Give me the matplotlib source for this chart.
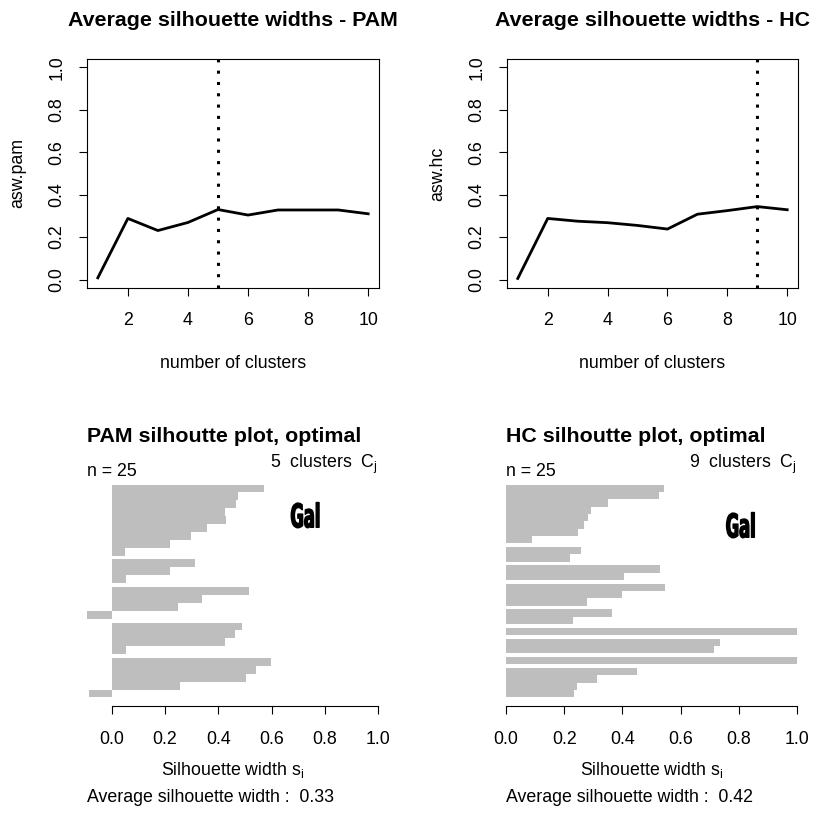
import numpy as np
import matplotlib
matplotlib.use("Agg")
import matplotlib.pyplot as plt
from matplotlib import patheffects
from matplotlib.path import Path
from matplotlib.transforms import Affine2D

# average silhouette width for k = 1..10 clusters
n_clusters = [1, 2, 3, 4, 5, 6, 7, 8, 9, 10]
asw_pam = [0.008, 0.288, 0.231, 0.269, 0.330, 0.304, 0.328, 0.328, 0.328, 0.310]
asw_hc = [0.005, 0.288, 0.275, 0.268, 0.255, 0.238, 0.308, 0.325, 0.344, 0.329]

# silhouette widths s_i of the 25 observations, grouped by cluster (sorted within cluster)
sil_pam = [
    [0.571, 0.473, 0.467, 0.426, 0.430, 0.359, 0.296, 0.218, 0.048],
    [0.314, 0.218, 0.053],
    [0.515, 0.339, 0.250, -0.093],
    [0.488, 0.463, 0.427, 0.053],
    [0.598, 0.542, 0.505, 0.255, -0.084],
]
sil_hc = [
    [0.543, 0.525, 0.349, 0.292, 0.283, 0.269, 0.249, 0.088],
    [0.257, 0.220],
    [0.529, 0.405],
    [0.548, 0.397, 0.279],
    [0.364, 0.231],
    [1.000],
    [0.735, 0.715],
    [1.000],
    [0.449, 0.311, 0.245, 0.235],
]

plt.rcParams['font.family'] = ['Liberation Sans', 'DejaVu Sans']
plt.rcParams['mathtext.fontset'] = 'custom'
plt.rcParams['mathtext.rm'] = 'Liberation Sans'
plt.rcParams['mathtext.it'] = 'Liberation Sans:italic'
plt.rcParams['mathtext.bf'] = 'Liberation Sans:bold'

W, H = 814, 813
FS = 12.8
TICK = 5.8
GRAY = '#BEBEBE'

fig = plt.figure(figsize=(W / 100, H / 100), dpi=100)


def rect(x0, y0, x1, y1):
    # pixel box -> figure fraction
    return [x0 / W, 1 - y1 / H, (x1 - x0) / W, (y1 - y0) / H]


class Squeeze(patheffects.AbstractPathEffect):
    """Narrow a text path horizontally about its centre and thicken the strokes."""

    def __init__(self, sx, stroke):
        super().__init__()
        self.sx = sx
        self.stroke = stroke

    def draw_path(self, renderer, gc, tpath, affine, rgbFace=None):
        verts = tpath.vertices
        if tpath.codes is not None:
            verts = verts[tpath.codes != Path.CLOSEPOLY]
        xs = affine.transform(verts)[:, 0]
        cx = 0.5 * (xs.min() + xs.max())
        squeeze = Affine2D().translate(-cx, 0).scale(self.sx, 1).translate(cx, 0)
        gc0 = renderer.new_gc()
        gc0.copy_properties(gc)
        gc0.set_linewidth(self.stroke)
        gc0.set_foreground(rgbFace)
        renderer.draw_path(gc0, tpath, affine + squeeze, rgbFace)
        gc0.restore()


def asw_panel(pos, asw, title, ylab):
    ax = fig.add_axes(pos)
    k_best = n_clusters[int(np.argmax(asw))]
    ax.plot(n_clusters, asw, color='black', lw=2.0)
    ax.axvline(k_best, color='black', lw=2.2, linestyle=(0, (1, 2.7)))
    ax.set_xlim(0.64, 10.36)
    ax.set_ylim(-0.04, 1.04)
    ax.set_xticks([2, 4, 6, 8, 10])
    yt = np.arange(0, 1.01, 0.2)
    ax.set_yticks(yt)
    ax.set_yticklabels([f'{v:.1f}' for v in yt])
    plt.setp(ax.get_yticklabels(), rotation=90, ha='center', va='center')
    ax.tick_params(direction='out', length=TICK, width=0.8, labelsize=FS)
    ax.tick_params(axis='x', pad=11.5)
    ax.tick_params(axis='y', pad=15.8)
    for s in ax.spines.values():
        s.set_linewidth(0.8)
    ax.set_title(title, fontsize=15.4, fontweight='bold', pad=24)
    ax.set_xlabel('number of clusters', fontsize=FS)
    ax.xaxis.set_label_coords(0.5, -75 / 229)
    ax.xaxis.label.set_va('center')
    ax.set_ylabel(ylab, fontsize=FS)
    ax.yaxis.set_label_coords(-69 / 292, 0.5)
    ax.yaxis.label.set_va('center')
    return ax


def sil_panel(pos, clusters, title):
    ax = fig.add_axes(pos)
    # bars run top-down, half a bar of space between clusters
    y = 0.0
    centers, widths = [], []
    for i, cl in enumerate(clusters):
        if i:
            y += 0.5
        for s in cl:
            centers.append(y + 0.5)
            widths.append(s)
            y += 1
    total = y
    ax.barh(centers, widths, height=1.0, color=GRAY, linewidth=0)
    ax.set_ylim(1.04 * total, -0.04 * total)
    ax.set_xlim(min(0, min(widths)), 1)
    for side in ['left', 'right', 'top']:
        ax.spines[side].set_visible(False)
    ax.spines['bottom'].set_bounds(0, 1)
    ax.spines['bottom'].set_linewidth(0.8)
    ax.set_yticks([])
    xt = np.arange(0, 1.01, 0.2)
    ax.set_xticks(xt)
    ax.set_xticklabels([f'{v:.1f}' for v in xt])
    ax.tick_params(direction='out', length=TICK, width=0.8, labelsize=FS, pad=12)
    ax.set_title(title, fontsize=15.4, fontweight='bold', loc='left', pad=24.5)
    ax.text(0, 1, f'n = {len(widths)}', transform=ax.transAxes,
            ha='left', va='baseline', fontsize=FS)
    ax.text(1, 1, rf'{len(clusters)}  clusters  $\mathrm{{C_j}}$', transform=ax.transAxes,
            ha='right', va='bottom', fontsize=FS)
    ax.set_xlabel(r'Silhouette width $\mathrm{s_i}$', fontsize=FS)
    ax.xaxis.set_label_coords(0.5, -64 / 230)
    ax.xaxis.label.set_va('center')
    ax.text(0, -91 / 230, f'Average silhouette width :  {np.mean(widths):.2f}',
            transform=ax.transAxes, ha='left', va='center', fontsize=FS)
    return ax


asw_panel(rect(87, 59, 379, 288), asw_pam, 'Average silhouette widths - PAM', 'asw.pam')
asw_panel(rect(507, 59, 798, 288), asw_hc, 'Average silhouette widths - HC', 'asw.hc')
sil_panel(rect(87, 476, 378, 706), sil_pam, 'PAM silhoutte plot, optimal')
sil_panel(rect(506, 476, 797, 706), sil_hc, 'HC silhoutte plot, optimal')

# dataset tag
for gx, gy in [(305.7, 527.3), (741.0, 537.3)]:
    fig.text(gx / W, 1 - gy / H, 'Gal', ha='center', va='baseline',
             fontsize=23.5, fontweight='bold', family=['DejaVu Sans'],
             path_effects=[Squeeze(0.5, 1.0)])

fig.savefig('out.png', dpi=100)
